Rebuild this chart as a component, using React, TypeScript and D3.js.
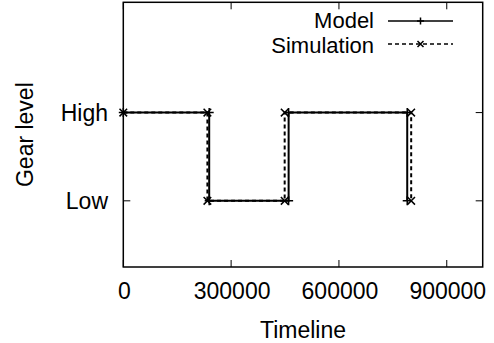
import React from "react";
import * as d3 from "d3";

const W = 494;
const H = 343;

const xTicks = [0, 300000, 600000, 900000];
const yLevels = ["Low", "High"];
const yLevelValues = [0, 1];

// step series: [time, level(0=Low,1=High)]
const modelTimes = [0, 239000, 239000, 460000, 460000, 790000, 790000];
const modelLevels = [1, 1, 0, 0, 1, 1, 0];
const simTimes = [0, 234000, 234000, 449000, 449000, 801000, 801000];
const simLevels = [1, 1, 0, 0, 1, 1, 0];

const legendNames = ["Model", "Simulation"];

const FONT = "'Liberation Sans', Arial, Helvetica, sans-serif";
const FS = 23;
const LFS = 22;

export default function App() {
  const left = 123.3, right = 482.7, top = 2.3, bottom = 267;
  const x = d3.scaleLinear().domain([0, 1000000]).range([left, right]);
  const y = d3.scaleLinear().domain([-0.75, 2.25]).range([bottom, top]);

  const line = d3
    .line<[number, number]>()
    .x((d) => x(d[0]))
    .y((d) => y(d[1]));

  const model: [number, number][] = modelTimes.map((t, i) => [t, modelLevels[i]]);
  const sim: [number, number][] = simTimes.map((t, i) => [t, simLevels[i]]);

  const plus = (cx: number, cy: number, s = 4.5) =>
    `M${cx - s},${cy}H${cx + s}M${cx},${cy - s}V${cy + s}`;
  const cross = (cx: number, cy: number, s = 3.8) =>
    `M${cx - s},${cy - s}L${cx + s},${cy + s}M${cx - s},${cy + s}L${cx + s},${cy - s}`;

  const tickLen = 7;
  const legX1 = 388, legX2 = 453, legTextX = 374;
  const legY = [21, 44];
  const legBase = [28.3, 53];

  return (
    <svg
      width={W}
      height={H}
      style={{ position: "absolute", left: 0, top: 0, background: "#fff" }}
      fontFamily={FONT}
    >
      <rect width={W} height={H} fill="#fff" />
      {/* ticks */}
      <g stroke="#000" strokeWidth={1}>
        {xTicks.map((t) => (
          <g key={t}>
            <line x1={x(t)} x2={x(t)} y1={bottom} y2={bottom - tickLen} />
            <line x1={x(t)} x2={x(t)} y1={top} y2={top + tickLen} />
          </g>
        ))}
        {yLevelValues.map((v) => (
          <g key={v}>
            <line x1={left} x2={left + tickLen} y1={y(v)} y2={y(v)} />
            <line x1={right} x2={right - tickLen} y1={y(v)} y2={y(v)} />
          </g>
        ))}
      </g>
      {/* tick labels */}
      <g fontSize={FS} fill="#000">
        {xTicks.map((t) => (
          <text key={t} x={x(t) + 1} y={299} textAnchor="middle">
            {String(t)}
          </text>
        ))}
        {yLevelValues.map((v, i) => (
          <text key={v} x={108} y={y(v) + 8.5} textAnchor="end">
            {yLevels[i]}
          </text>
        ))}
        <text x={(left + right) / 2} y={338} textAnchor="middle">
          Timeline
        </text>
        <text
          transform={`translate(32.5,${(top + bottom) / 2}) rotate(-90)`}
          textAnchor="middle"
        >
          Gear level
        </text>
      </g>
      {/* data */}
      <path d={line(model) || ""} fill="none" stroke="#000" strokeWidth={2} />
      <path
        d={model.map((d) => plus(x(d[0]), y(d[1]))).join("")}
        fill="none"
        stroke="#000"
        strokeWidth={1.5}
      />
      <path
        d={line(sim) || ""}
        fill="none"
        stroke="#000"
        strokeWidth={2}
        strokeDasharray="4,3"
      />
      <path
        d={sim.map((d) => cross(x(d[0]), y(d[1]))).join("")}
        fill="none"
        stroke="#000"
        strokeWidth={1.5}
      />
      {/* legend */}
      <g fontSize={LFS} fill="#000">
        {legendNames.map((n, i) => (
          <text key={n} x={legTextX} y={legBase[i]} textAnchor="end">
            {n}
          </text>
        ))}
      </g>
      <line x1={legX1} x2={legX2} y1={legY[0]} y2={legY[0]} stroke="#000" strokeWidth={1.5} />
      <path d={plus((legX1 + legX2) / 2, legY[0], 3.5)} stroke="#000" strokeWidth={1.5} />
      <line
        x1={legX1}
        x2={legX2}
        y1={legY[1]}
        y2={legY[1]}
        stroke="#000"
        strokeWidth={1.5}
        strokeDasharray="4,3"
      />
      <path d={cross((legX1 + legX2) / 2, legY[1], 3)} stroke="#000" strokeWidth={1.5} />
      {/* frame */}
      <rect
        x={left}
        y={top}
        width={right - left}
        height={bottom - top}
        fill="none"
        stroke="#000"
        strokeWidth={1.5}
      />
    </svg>
  );
}
